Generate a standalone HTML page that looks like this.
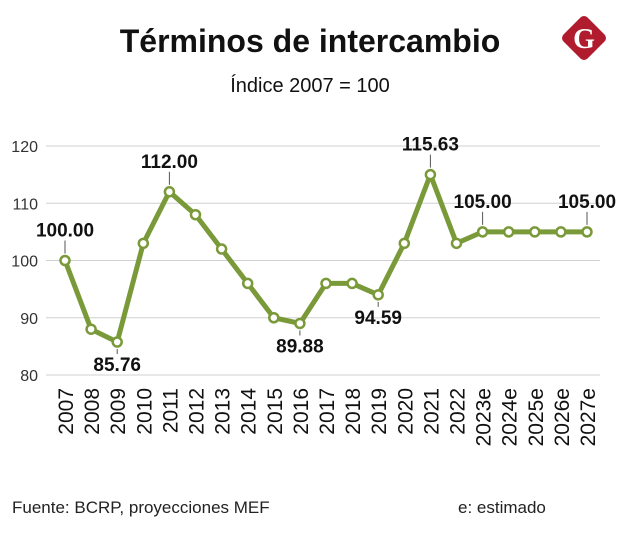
<!DOCTYPE html>
<html><head><meta charset="utf-8"><style>
body{margin:0;background:#fff;width:620px;height:554px;overflow:hidden;font-family:"Liberation Sans",sans-serif}
</style></head><body>
<svg id="chart" width="620" height="554" xmlns="http://www.w3.org/2000/svg">
<text x="310" y="52" text-anchor="middle" font-size="32" font-weight="bold" fill="#111">Términos de intercambio</text>
<text x="310" y="92" text-anchor="middle" font-size="20" fill="#111">Índice 2007 = 100</text>
<g>
<rect x="567" y="21" width="34" height="34" rx="5" transform="rotate(45 584 38)" fill="#b01c2e"/>
<text x="584" y="48" text-anchor="middle" font-size="28" font-weight="bold" font-family="Liberation Serif,serif" fill="#fff">G</text>
</g>
<g id="axes"></g>
<g id="marks"></g>
<text x="12" y="513" font-size="17" fill="#222">Fuente: BCRP, proyecciones MEF</text>
<text x="458" y="513" font-size="17" fill="#222">e: estimado</text>
</svg>
<script>
const categories=["2007","2008","2009","2010","2011","2012","2013","2014","2015","2016","2017","2018","2019","2020","2021","2022","2023e","2024e","2025e","2026e","2027e"];
const values=[100,88,85.76,103,112,108,102,96,90,89,96,96,94,103,115,103,105,105,105,105,105];
const labelText=["100.00",null,"85.76",null,"112.00",null,null,null,null,"89.88",null,null,"94.59",null,"115.63",null,"105.00",null,null,null,"105.00"];
const labelPos=["above",null,"below",null,"above",null,null,null,null,"below",null,null,"below",null,"above",null,"above",null,null,null,"above"];
const yTicks=[80,90,100,110,120];
const NS="http://www.w3.org/2000/svg";
const x=i=>65+i*(522/(categories.length-1));
const y=v=>375-(v-80)*(229/40);
function mk(tag,attrs,parent){const e=document.createElementNS(NS,tag);for(const k in attrs)e.setAttribute(k,attrs[k]);parent.appendChild(e);return e;}
const axes=document.getElementById('axes'),marks=document.getElementById('marks');
yTicks.forEach(t=>{
 const g=mk('line',{x1:46,x2:600,y1:y(t),y2:y(t),stroke:'#d0d0d0','stroke-width':1},axes);
 
 
 const l=mk('text',{x:38,y:y(t)+6,'text-anchor':'end','font-size':16,fill:'#333'},axes);
 l.textContent=t;
 
 
});
categories.forEach((c,i)=>{
 const t=mk('text',{transform:`translate(${x(i)+8},388) rotate(-90)`,'text-anchor':'end','font-size':21,'textLength':0,fill:'#111'},axes);
 t.removeAttribute('textLength');
 t.textContent=c;
 
 
});
const line=mk('polyline',{points:values.map((v,i)=>x(i)+','+y(v)).join(' '),fill:'none',stroke:'#7a9a3a','stroke-width':5,'stroke-linejoin':'round'},marks);


values.forEach((v,i)=>{
 const c=mk('circle',{cx:x(i),cy:y(v),r:4.5,fill:'#fff',stroke:'#7a9a3a','stroke-width':2.5},marks);
 
 
 if(labelText[i]){
  const up=labelPos[i]==='above';
  mk('line',{x1:x(i),x2:x(i),y1:up?y(v)-7:y(v)+7,y2:up?y(v)-20:y(v)+12,stroke:'#555','stroke-width':1},marks);
  const t=mk('text',{x:x(i),y:up?y(v)-24:y(v)+29,'text-anchor':'middle','font-size':19,'font-weight':'bold',fill:'#111'},marks);
  t.textContent=labelText[i];
  
  
 }
});
</script>
</body></html>
